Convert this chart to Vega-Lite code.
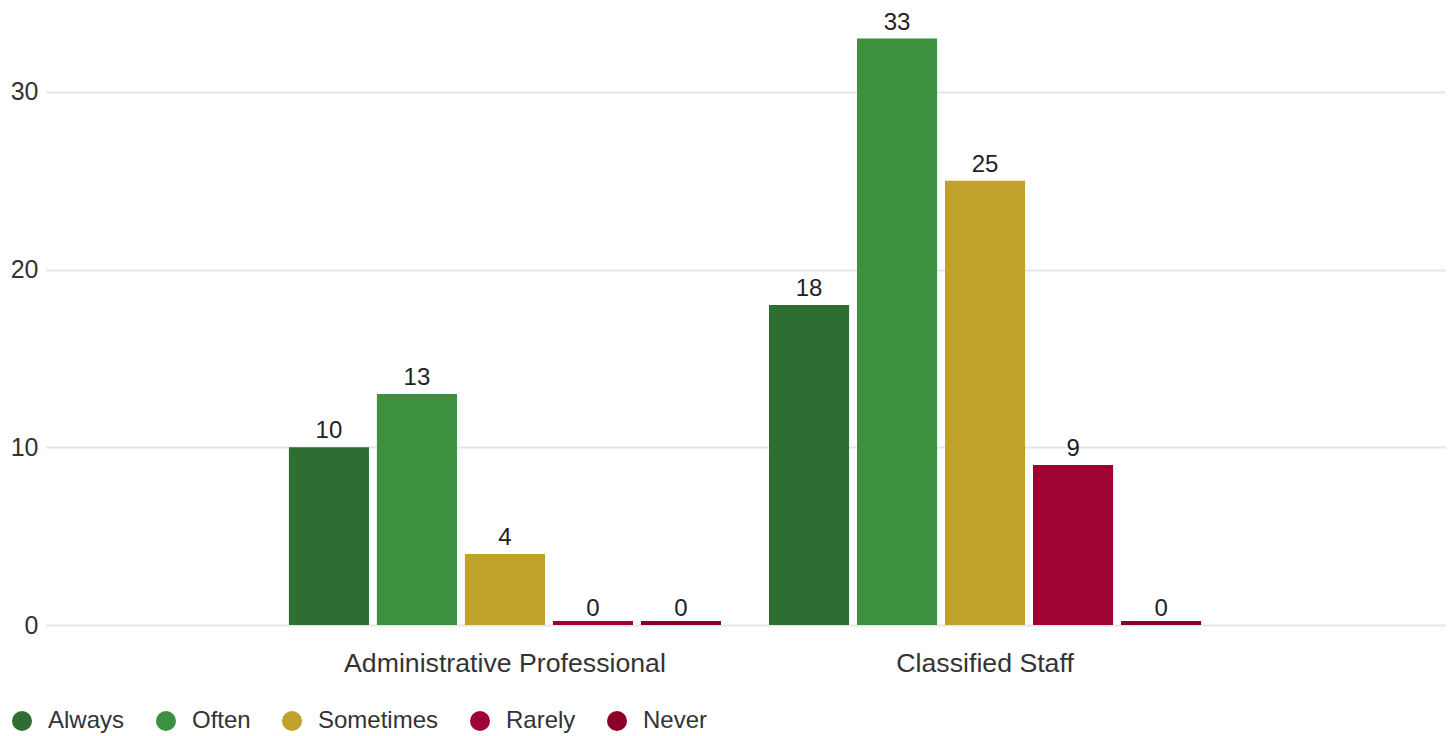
{
  "$schema": "https://vega.github.io/schema/vega-lite/v6.json",
  "width": 1400,
  "height": 622,
  "padding": {"left": 10, "top": 3, "right": 10, "bottom": 5},
  "autosize": {"type": "pad"},
  "background": "white",
  "config": {
    "view": {"stroke": null},
    "font": "Liberation Sans",
    "axis": {"labelFont": "Liberation Sans", "labelColor": "#333333", "labelFontSize": 24}
  },
  "data": {
    "values": [
      {"group": "Administrative Professional", "response": "Always", "value": 10},
      {"group": "Administrative Professional", "response": "Often", "value": 13},
      {"group": "Administrative Professional", "response": "Sometimes", "value": 4},
      {"group": "Administrative Professional", "response": "Rarely", "value": 0},
      {"group": "Administrative Professional", "response": "Never", "value": 0},
      {"group": "Classified Staff", "response": "Always", "value": 18},
      {"group": "Classified Staff", "response": "Often", "value": 33},
      {"group": "Classified Staff", "response": "Sometimes", "value": 25},
      {"group": "Classified Staff", "response": "Rarely", "value": 9},
      {"group": "Classified Staff", "response": "Never", "value": 0}
    ]
  },
  "encoding": {
    "x": {
      "field": "group", "type": "nominal", "title": null,
      "scale": {"paddingInner": 0.1, "paddingOuter": 0.508},
      "axis": {"labelAngle": 0, "domain": false, "ticks": false, "labelPadding": 25, "grid": false, "labelFontSize": 26.7, "labelLimit": 0}
    },
    "xOffset": {
      "field": "response", "type": "nominal",
      "sort": ["Always", "Often", "Sometimes", "Rarely", "Never"],
      "scale": {"paddingInner": 0.09, "paddingOuter": 0}
    },
    "y": {
      "field": "value", "type": "quantitative", "title": null,
      "scale": {"domain": [0, 35], "nice": false},
      "axis": {"values": [0, 10, 20, 30], "domain": false, "ticks": false, "labelPadding": 7, "gridColor": "#e6e6e6", "gridWidth": 2, "labelFontSize": 25}
    }
  },
  "layer": [
    {
      "mark": {"type": "bar"},
      "encoding": {
        "color": {
          "field": "response", "type": "nominal",
          "sort": ["Always", "Often", "Sometimes", "Rarely", "Never"],
          "scale": {
            "domain": ["Always", "Often", "Sometimes", "Rarely", "Never"],
            "range": ["#2e6e32", "#3c9040", "#c0a22a", "#9e0333", "#8a0029"]
          },
          "legend": {
            "title": null,
            "orient": "none",
            "legendX": -35,
            "legendY": 706,
            "direction": "horizontal",
            "symbolType": "circle",
            "symbolSize": 400,
            "symbolStrokeWidth": 0,
            "labelFontSize": 24,
            "labelFont": "Liberation Sans",
            "labelColor": "#333333",
            "labelOffset": 14,
            "columnPadding": 29
          }
        }
      }
    },
    {
      "transform": [{"filter": "datum.value === 0"}],
      "mark": {"type": "bar", "yOffset": -2, "strokeWidth": 4},
      "encoding": {
        "stroke": {
          "field": "response", "type": "nominal",
          "scale": {
            "domain": ["Always", "Often", "Sometimes", "Rarely", "Never"],
            "range": ["#2e6e32", "#3c9040", "#c0a22a", "#9e0333", "#8a0029"]
          },
          "legend": null
        }
      }
    },
    {
      "mark": {"type": "text", "baseline": "alphabetic", "dy": -9, "fontSize": 24, "color": "#222222", "font": "Liberation Sans"},
      "encoding": {"text": {"field": "value", "type": "quantitative"}}
    }
  ]
}
